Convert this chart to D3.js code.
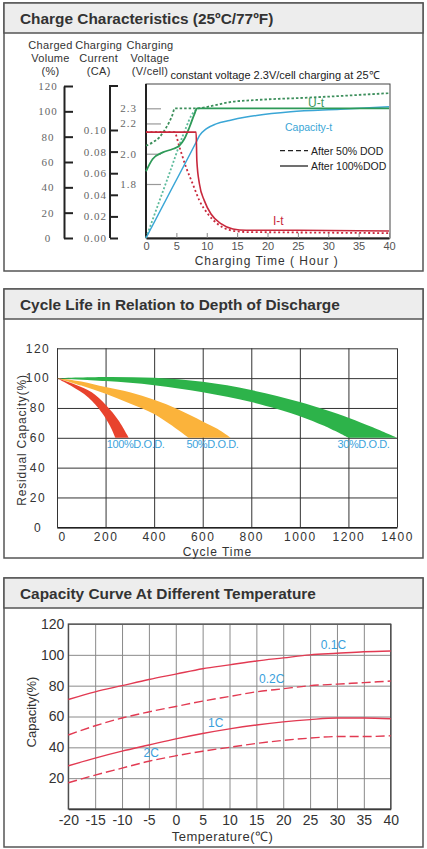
<!DOCTYPE html>
<html>
<head>
<meta charset="utf-8">
<script src="https://cdn.jsdelivr.net/npm/d3@7"></script>
<style>
body { margin: 0; background: #fff; }
svg { display: block; font-family: "Liberation Sans", Arial, sans-serif; }
</style>
</head>
<body>
<div id="container"></div>
<script>
/* DATA */
// charge characteristics, [hour, value]
const voltage100 = [[0,1.884],[1.1,1.965],[2.75,2.009],[4.4,2.031],[5.5,2.053],[6.3,2.097],[7.15,2.175],[7.97,2.262],[8.4,2.3],[20,2.3],[40,2.3]];
const voltage50 = [[0,2.053],[1.1,2.075],[2.2,2.108],[3.0,2.152],[3.8,2.207],[4.4,2.262],[4.7,2.3],[8.3,2.3],[11,2.317],[13.7,2.34],[18.2,2.355],[26.5,2.37],[40,2.4]];
const capacity100 = [[0,0],[4,36.7],[8.25,75.6],[8.8,80.8],[9.9,86.1],[11.55,90.1],[13.75,92.8],[16.5,95.5],[18.2,96.8],[23.8,99.7],[32,101.6],[40,103.6]];
const capacity50 = [[0,0],[2,26.5],[4,53],[6,80],[6.5,86],[7,92],[7.5,97],[8,100],[8.5,101.5]];
const current100 = [[0,0.098],[8.25,0.098],[8.37,0.0716],[8.8,0.05],[9.6,0.0346],[10.7,0.0222],[12.4,0.013],[14.3,0.0083],[16.5,0.0072],[25,0.0072],[40,0.0065]];
const current50 = [[0,0.098],[4.67,0.098],[5.5,0.0843],[6.6,0.0654],[7.7,0.05],[8.8,0.0346],[10.2,0.0222],[11.8,0.013],[13.7,0.0075],[16.5,0.0055],[21,0.0053],[40,0.0045]];
const volumeTicks = [0,20,40,60,80,100,120];
const currentTicks = [0,0.02,0.04,0.06,0.08,0.10];
const voltageTicks = [1.8,2.0,2.2,2.3];
const hourTicks = [0,5,10,15,20,25,30,35,40];

// cycle life bands, [cycles, residual %]
const dod100Upper = [[0,100],[74,95.8],[143,90.5],[204,81.5],[252,72],[296,60]];
const dod100Lower = [[0,100],[56,95],[129,87],[184,77],[218,68],[240,60]];
const dod50Upper = [[0,100],[100,97.8],[200,94],[300,90.5],[400,85.5],[500,79],[600,71],[660,66],[715,60]];
const dod50Lower = [[0,100],[100,95],[200,89.5],[300,83],[400,76],[470,68.5],[541,60]];
const dod30Upper = [[0,100],[200,100.8],[400,100.2],[600,97.5],[800,92],[1000,84],[1200,73.5],[1300,67],[1400,60]];
const dod30Lower = [[0,100],[200,98],[400,95.3],[600,90.5],[800,84],[1000,74.5],[1100,68],[1200,60]];
const cycleTicks = [0,200,400,600,800,1000,1200,1400];
const residualTicks = [0,20,40,60,80,100,120];

// capacity vs temperature
const temps = [-20,-15,-10,-5,0,5,10,15,20,25,30,35,40];
const cap01C = [71,76,80,84,87.5,91,93.5,96,98,100,101,102,102.5];
const cap02C = [48,54,59,63,66.5,70,73,76,78,80,81,82,83];
const cap1C = [28,33,37.5,41.5,45.5,49,52,54.5,56.5,58,59,59,58.5];
const cap2C = [17,22,26.5,31,34.5,37.5,40,42.5,44.5,46,47,47,47.5];
const capTicks = [20,40,60,80,100,120];

const W = 427, H = 849;
const svg = d3.select("#container").append("svg").attr("width", W).attr("height", H);

function panel(top, bottom, title) {
  svg.append("rect").attr("x", 4).attr("y", top).attr("width", 419).attr("height", bottom - top)
    .attr("fill", "#fff").attr("stroke", "#555").attr("stroke-width", 1.5);
  svg.append("rect").attr("x", 4).attr("y", top).attr("width", 419).attr("height", 30)
    .attr("fill", "#ededed").attr("stroke", "#555").attr("stroke-width", 1.5);
  svg.append("text").attr("x", 20).attr("y", top + 21).attr("font-size", 15.4)
    .attr("font-weight", "bold").attr("fill", "#333").text(title);
}

panel(3, 271, "Charge Characteristics (25ºC/77ºF)");
panel(289, 558, "Cycle Life in Relation to Depth of Discharge");
panel(578, 847, "Capacity Curve At Different Temperature");

/* ---------- CHARGE CHARACTERISTICS ---------- */
const xT = d3.scaleLinear().domain([0, 40]).range([146, 389]);
const yVol = d3.scaleLinear().domain([0, 120]).range([238, 86]);
const yCur = d3.scaleLinear().domain([0, 0.1]).range([238, 130]);
const yVolt = d3.scaleLinear().domain([1.8, 2.3]).range([184, 108.3]);

const heads = [["Charged","Volume","(%)", 50.5], ["Charging","Current","(CA)", 98.7], ["Charging","Voltage","(V/cell)", 150]];
heads.forEach(h => {
  [0,1,2].forEach(i => {
    svg.append("text").attr("x", h[3]).attr("y", 49 + i * 13).attr("text-anchor", "middle")
      .attr("font-size", 11).attr("fill", "#333").attr("letter-spacing", 0.3).text(h[i]);
  });
});

const serifStyle = g => g.selectAll("text").attr("font-family", "'Liberation Serif', serif")
  .attr("font-size", 11).attr("fill", "#666").attr("letter-spacing", 1);

// volume axis
const gVol = svg.append("g").attr("transform", "translate(64,0)")
  .call(d3.axisLeft(yVol).tickValues(volumeTicks).tickSize(-9).tickSizeOuter(0).tickPadding(8));
gVol.call(serifStyle);
gVol.selectAll("text").attr("text-anchor", "middle").attr("x", -16);
gVol.selectAll("line, path").attr("stroke", "#222").attr("stroke-width", 2);

// current axis
const gCur = svg.append("g").attr("transform", "translate(110,0)")
  .call(d3.axisLeft(yCur).tickValues(currentTicks).tickFormat(d3.format(".2f")).tickSize(-8).tickSizeOuter(0).tickPadding(3));
gCur.call(serifStyle);
gCur.select("path.domain").attr("d", `M0,${yVol(0)}V${yVol(120)}H8`);
gCur.selectAll("line, path").attr("stroke", "#222").attr("stroke-width", 2).attr("fill", "none");

// voltage axis (inside plot)
const gVolt = svg.append("g").attr("transform", "translate(146,0)")
  .call(d3.axisLeft(yVolt).tickValues(voltageTicks).tickFormat(d3.format(".1f")).tickSize(-15).tickPadding(9));
gVolt.call(serifStyle);
gVolt.select("path.domain").remove();
gVolt.selectAll("line").attr("stroke", "#999").attr("stroke-width", 1.2);

// frame
svg.append("rect").attr("x", xT(0)).attr("y", 84).attr("width", xT(40) - xT(0) + 1).attr("height", yVol(0) - 84)
  .attr("fill", "none").attr("stroke", "#444").attr("stroke-width", 1);

// x axis
const gX = svg.append("g").attr("transform", `translate(0,${yVol(0)})`)
  .call(d3.axisBottom(xT).tickValues(hourTicks).tickSize(-5).tickSizeOuter(0).tickPadding(4));
gX.selectAll("text").attr("font-size", 11).attr("fill", "#555");
gX.selectAll("line").attr("stroke", "#888");
gX.select("path.domain").attr("stroke", "#222").attr("stroke-width", 2);
svg.append("line").attr("x1", xT(0)).attr("x2", xT(0)).attr("y1", 84).attr("y2", yVol(0))
  .attr("stroke", "#222").attr("stroke-width", 2);

svg.append("text").attr("x", 266.7).attr("y", 265).attr("text-anchor", "middle").attr("font-size", 12)
  .attr("letter-spacing", 1).attr("fill", "#333").text("Charging Time ( Hour )");
svg.append("text").attr("x", 275).attr("y", 79).attr("text-anchor", "middle").attr("font-size", 11)
  .attr("fill", "#222").text("constant voltage 2.3V/cell charging at 25℃");

const plotG = svg.append("g");
const lineFor = ys => d3.line().x(d => xT(d[0])).y(d => ys(d[1])).curve(d3.curveMonotoneX);
const curves = [
  { data: capacity50, y: yVol, color: "#5dbb9c", dash: "2,2", w: 1.8 },
  { data: voltage50, y: yVolt, color: "#3d8f5c", dash: "2.5,2", w: 1.8 },
  { data: current50, y: yCur, color: "#c8283c", dash: "2,2.5", w: 1.8 },
  { data: capacity100, y: yVol, color: "#3aa6d6", dash: null, w: 1.5 },
  { data: voltage100, y: yVolt, color: "#2e9a58", dash: null, w: 1.8 },
  { data: current100, y: yCur, color: "#c8283c", dash: null, w: 1.6 }
];
curves.forEach(c => {
  plotG.append("path").attr("d", lineFor(c.y)(c.data)).attr("fill", "none")
    .attr("stroke", c.color).attr("stroke-width", c.w).attr("stroke-dasharray", c.dash);
});

// curve labels
svg.append("text").attr("x", 308).attr("y", 107).attr("font-size", 12).attr("fill", "#3d9a60").text("U-t");
svg.append("text").attr("x", 285).attr("y", 130.5).attr("font-size", 10.5).attr("fill", "#3aa6d6").text("Capacity-t");
svg.append("text").attr("x", 273).attr("y", 225).attr("font-size", 12).attr("fill", "#c8283c").text("I-t");

// legend
svg.append("line").attr("x1", 280).attr("x2", 308).attr("y1", 150.7).attr("y2", 150.7)
  .attr("stroke", "#222").attr("stroke-width", 1.3).attr("stroke-dasharray", "5,3");
svg.append("line").attr("x1", 280).attr("x2", 308).attr("y1", 166).attr("y2", 166)
  .attr("stroke", "#222").attr("stroke-width", 1.3);
svg.append("text").attr("x", 311).attr("y", 154.5).attr("font-size", 10.5).attr("fill", "#222").text("After 50% DOD");
svg.append("text").attr("x", 311).attr("y", 170).attr("font-size", 10.5).attr("fill", "#222").text("After 100%DOD");

/* ---------- CYCLE LIFE ---------- */
const xM = d3.scaleLinear().domain([0, 1400]).range([57, 397]);
const yM = d3.scaleLinear().domain([0, 120]).range([527.3, 348.3]);

const gMy = svg.append("g").attr("transform", `translate(${xM(0)},0)`)
  .call(d3.axisLeft(yM).tickValues(residualTicks).tickSize(-(xM(1400) - xM(0))).tickSizeOuter(0).tickPadding(9));
gMy.select("path.domain").remove();
gMy.selectAll("line").attr("stroke", "#333").attr("stroke-width", 1);
gMy.selectAll("text").attr("font-size", 12).attr("fill", "#333").attr("letter-spacing", 1.5)
  .attr("text-anchor", "middle").attr("x", -19);

const gMx = svg.append("g").attr("transform", `translate(0,${yM(0)})`)
  .call(d3.axisBottom(xM).tickValues(cycleTicks).tickFormat(d3.format("d")).tickSize(-(yM(0) - yM(120))).tickSizeOuter(0).tickPadding(5));
gMx.select("path.domain").attr("stroke", "#222").attr("stroke-width", 1.5);
gMx.selectAll("line").attr("stroke", "#333").attr("stroke-width", 1);
gMx.selectAll("text").attr("font-size", 12).attr("fill", "#333").attr("letter-spacing", 1.5);
gMx.selectAll(".tick").filter(d => d === 0).select("text").attr("dx", 5);

function bandPath(upper, lower) {
  const ln = d3.line().x(d => xM(d[0])).y(d => yM(d[1])).curve(d3.curveCatmullRom.alpha(0.5));
  const a = ln(upper);
  const b = ln(lower.slice().reverse());
  return a + "L" + b.slice(1) + "Z";
}
const bands = [
  { up: dod30Upper, low: dod30Lower, color: "#2db34a", label: "30%D.O.D.", lx: 1155 },
  { up: dod50Upper, low: dod50Lower, color: "#fbb33b", label: "50%D.O.D.", lx: 533 },
  { up: dod100Upper, low: dod100Lower, color: "#e8432d", label: "100%D.O.D.", lx: 205 }
];
bands.forEach(b => {
  svg.append("path").attr("d", bandPath(b.up, b.low)).attr("fill", b.color);
  svg.append("text").attr("x", xM(b.lx)).attr("y", yM(53)).attr("font-size", 11)
    .attr("letter-spacing", -0.4).attr("fill", "#3ca3dc").text(b.label);
});

svg.append("text").attr("x", 217.5).attr("y", 556).attr("text-anchor", "middle").attr("font-size", 12)
  .attr("letter-spacing", 1).attr("fill", "#333").text("Cycle Time");
svg.append("text").attr("transform", "translate(26,440) rotate(-90)").attr("text-anchor", "middle")
  .attr("font-size", 12).attr("letter-spacing", 0.8).attr("fill", "#333").text("Residual Capacity(%)");

/* ---------- CAPACITY VS TEMPERATURE ---------- */
const xB = d3.scaleLinear().domain([-20, 40]).range([68.3, 390.7]);
const yB = d3.scaleLinear().domain([0, 120]).range([809, 624]);

const gBy = svg.append("g").attr("transform", `translate(${xB(-20)},0)`)
  .call(d3.axisLeft(yB).tickValues(capTicks).tickSize(-(xB(40) - xB(-20))).tickSizeOuter(0).tickPadding(4));
gBy.select("path.domain").remove();
gBy.selectAll("line").attr("stroke", "#8a8a8a").attr("stroke-width", 1);
gBy.selectAll("text").attr("font-size", 14).attr("fill", "#333");

const gBx = svg.append("g").attr("transform", `translate(0,${yB(0)})`)
  .call(d3.axisBottom(xB).tickValues(temps).tickFormat(d => String(d)).tickSize(-(yB(0) - yB(120))).tickSizeOuter(0).tickPadding(6));
gBx.selectAll("line").attr("stroke", "#8a8a8a").attr("stroke-width", 1);
gBx.selectAll("text").attr("font-size", 14).attr("fill", "#333");
gBx.select("path.domain").attr("stroke", "#333").attr("stroke-width", 1.3);
svg.append("rect").attr("x", xB(-20)).attr("y", yB(120)).attr("width", xB(40) - xB(-20)).attr("height", yB(0) - yB(120))
  .attr("fill", "none").attr("stroke", "#444").attr("stroke-width", 1.2);

const lineB = d3.line().x((d, i) => xB(temps[i])).y(d => yB(d)).curve(d3.curveMonotoneX);
const tempSeries = [
  { data: cap01C, dash: null, label: "0.1C", lx: 27, ly: 103.5 },
  { data: cap02C, dash: "9,4", label: "0.2C", lx: 15.5, ly: 81.5 },
  { data: cap1C, dash: null, label: "1C", lx: 6, ly: 53 },
  { data: cap2C, dash: "9,4", label: "2C", lx: -6, ly: 33.5 }
];
tempSeries.forEach(s => {
  svg.append("path").attr("d", lineB(s.data)).attr("fill", "none").attr("stroke", "#e23a52")
    .attr("stroke-width", 1.4).attr("stroke-dasharray", s.dash);
  svg.append("text").attr("x", xB(s.lx)).attr("y", yB(s.ly)).attr("font-size", 12)
    .attr("fill", "#3aa0dc").text(s.label);
});

svg.append("text").attr("x", 222.5).attr("y", 841).attr("text-anchor", "middle").attr("font-size", 13)
  .attr("letter-spacing", 0.5).attr("fill", "#333").text("Temperature(℃)");
svg.append("text").attr("transform", "translate(36,712) rotate(-90)").attr("text-anchor", "middle")
  .attr("font-size", 13).attr("fill", "#333").text("Capacity(%)");
</script>
</body>
</html>
